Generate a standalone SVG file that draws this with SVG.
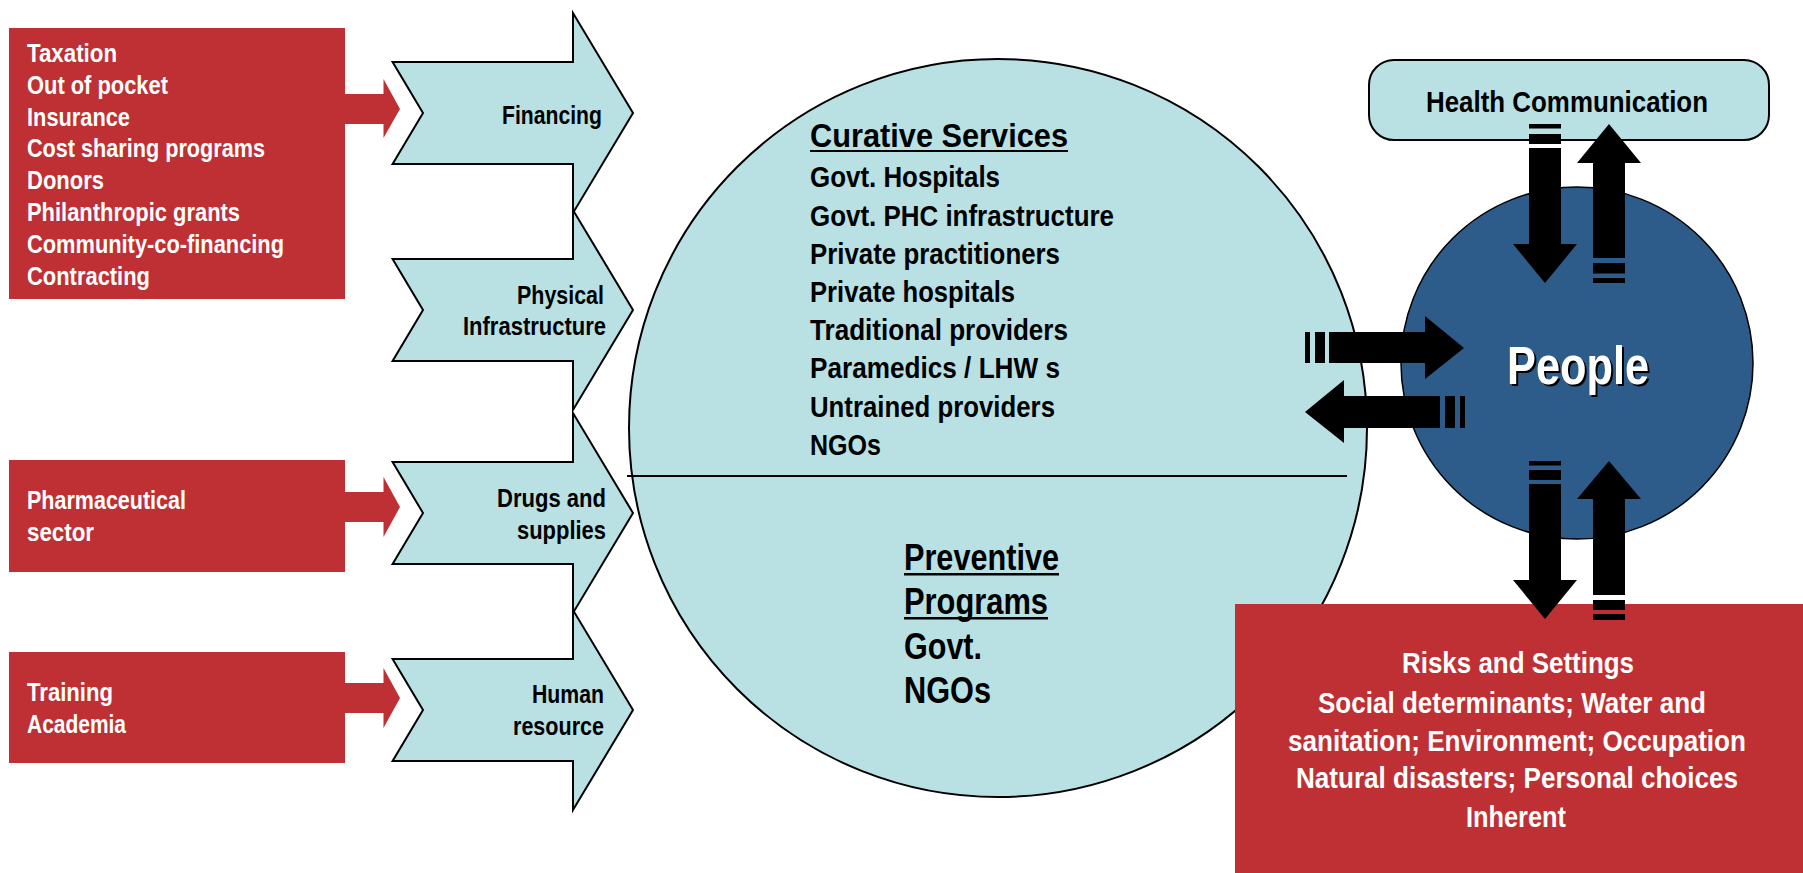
<svg xmlns="http://www.w3.org/2000/svg" width="1803" height="873" viewBox="0 0 1803 873">
<defs>
<style>
.red{fill:#BE3033}
.blue{fill:#B9E0E3;stroke:#000;stroke-width:2}
.blk{fill:#000}
text{font-family:"Liberation Sans Narrow","Arial Narrow","Liberation Sans",Arial,sans-serif;font-weight:bold}
.w{fill:#fff}
.k{fill:#000}
.s26{font-size:26px}
.s25{font-size:25px}
.s29{font-size:29px}
.s33{font-size:33px}
.s37{font-size:37px}
.s30{font-size:30px}
</style>
</defs>
<rect width="1803" height="873" fill="#fff"/>

<g id="big-circle">
<circle cx="998" cy="428" r="369" class="blue"/>
<line x1="627" y1="476" x2="1347" y2="476" stroke="#000" stroke-width="2"/>
<text class="k s33" x="810" y="147" textLength="258" lengthAdjust="spacingAndGlyphs">Curative Services</text>
<rect x="810" y="150" width="258" height="2" fill="#000"/>
<text class="k s29" x="810" y="187" textLength="190" lengthAdjust="spacingAndGlyphs">Govt. Hospitals</text>
<text class="k s29" x="810" y="226" textLength="304" lengthAdjust="spacingAndGlyphs">Govt. PHC infrastructure</text>
<text class="k s29" x="810" y="264" textLength="250" lengthAdjust="spacingAndGlyphs">Private practitioners</text>
<text class="k s29" x="810" y="302" textLength="205" lengthAdjust="spacingAndGlyphs">Private hospitals</text>
<text class="k s29" x="810" y="340" textLength="258" lengthAdjust="spacingAndGlyphs">Traditional providers</text>
<text class="k s29" x="810" y="378" textLength="250" lengthAdjust="spacingAndGlyphs">Paramedics / LHW s</text>
<text class="k s29" x="810" y="417" textLength="245" lengthAdjust="spacingAndGlyphs">Untrained providers</text>
<text class="k s29" x="810" y="455" textLength="71" lengthAdjust="spacingAndGlyphs">NGOs</text>
<text class="k s37" x="904" y="570" textLength="155" lengthAdjust="spacingAndGlyphs">Preventive</text>
<rect x="904" y="573" width="155" height="2.5" fill="#000"/>
<text class="k s37" x="904" y="614" textLength="144" lengthAdjust="spacingAndGlyphs">Programs</text>
<rect x="904" y="617" width="144" height="2.5" fill="#000"/>
<text class="k s37" x="904" y="659" textLength="78" lengthAdjust="spacingAndGlyphs">Govt.</text>
<text class="k s37" x="904" y="703" textLength="87" lengthAdjust="spacingAndGlyphs">NGOs</text>
</g>

<g id="financing-sources">
<rect x="9" y="28" width="336" height="271" class="red"/>
<text class="w s26" x="27" y="62" textLength="90" lengthAdjust="spacingAndGlyphs">Taxation</text>
<text class="w s26" x="27" y="94" textLength="141" lengthAdjust="spacingAndGlyphs">Out of pocket</text>
<text class="w s26" x="27" y="126" textLength="103" lengthAdjust="spacingAndGlyphs">Insurance</text>
<text class="w s26" x="27" y="157" textLength="238" lengthAdjust="spacingAndGlyphs">Cost sharing programs</text>
<text class="w s26" x="27" y="189" textLength="77" lengthAdjust="spacingAndGlyphs">Donors</text>
<text class="w s26" x="27" y="221" textLength="213" lengthAdjust="spacingAndGlyphs">Philanthropic grants</text>
<text class="w s26" x="27" y="253" textLength="257" lengthAdjust="spacingAndGlyphs">Community-co-financing</text>
<text class="w s26" x="27" y="285" textLength="123" lengthAdjust="spacingAndGlyphs">Contracting</text>
</g>

<g id="pharma-sources">
<rect x="9" y="460" width="336" height="112" class="red"/>
<text class="w s26" x="27" y="509" textLength="159" lengthAdjust="spacingAndGlyphs">Pharmaceutical</text>
<text class="w s26" x="27" y="541" textLength="67" lengthAdjust="spacingAndGlyphs">sector</text>
</g>

<g id="training-sources">
<rect x="9" y="652" width="336" height="111" class="red"/>
<text class="w s26" x="27" y="701" textLength="86" lengthAdjust="spacingAndGlyphs">Training</text>
<text class="w s26" x="27" y="733" textLength="99" lengthAdjust="spacingAndGlyphs">Academia</text>
</g>

<g id="financing">
<polygon class="blue" points="392.6,62 573,62 573,13 633,113 573,213 573,164 392.6,164 423,113"/>
<text class="k s25" x="502" y="124" textLength="100" lengthAdjust="spacingAndGlyphs">Financing</text>
</g>
<g id="physical-infrastructure">
<polygon class="blue" points="392.6,259 573,259 573,210 633,310 573,410 573,361 392.6,361 423,310"/>
<text class="k s25" x="517" y="304" textLength="87" lengthAdjust="spacingAndGlyphs">Physical</text>
<text class="k s25" x="463" y="335" textLength="143" lengthAdjust="spacingAndGlyphs">Infrastructure</text>
</g>
<g id="drugs-supplies">
<polygon class="blue" points="392.6,462 573,462 573,413 633,513 573,613 573,564 392.6,564 423,513"/>
<text class="k s25" x="497" y="507" textLength="109" lengthAdjust="spacingAndGlyphs">Drugs and</text>
<text class="k s25" x="517" y="539" textLength="89" lengthAdjust="spacingAndGlyphs">supplies</text>
</g>
<g id="human-resource">
<polygon class="blue" points="392.6,659 573,659 573,610 633,710 573,810 573,761 392.6,761 423,710"/>
<text class="k s25" x="532" y="703" textLength="72" lengthAdjust="spacingAndGlyphs">Human</text>
<text class="k s25" x="513" y="735" textLength="91" lengthAdjust="spacingAndGlyphs">resource</text>
</g>

<g id="risks-settings">
<rect x="1235" y="604" width="568" height="269" class="red"/>
<text class="w s29" x="1402" y="673" textLength="232" lengthAdjust="spacingAndGlyphs">Risks and Settings</text>
<text class="w s29" x="1318" y="713" textLength="388" lengthAdjust="spacingAndGlyphs">Social determinants; Water and</text>
<text class="w s29" x="1288" y="751" textLength="458" lengthAdjust="spacingAndGlyphs">sanitation; Environment; Occupation</text>
<text class="w s29" x="1296" y="788" textLength="442" lengthAdjust="spacingAndGlyphs">Natural disasters; Personal choices</text>
<text class="w s29" x="1466" y="827" textLength="100" lengthAdjust="spacingAndGlyphs">Inherent</text>
</g>

<g id="health-communication">
<rect x="1369" y="60" width="400" height="80" rx="25" ry="25" class="blue"/>
<text class="k s30" x="1426" y="112" textLength="282" lengthAdjust="spacingAndGlyphs">Health Communication</text>
</g>

<g id="people">
<circle cx="1577" cy="363" r="176" fill="#2D5B8A" stroke="#000" stroke-width="1.5"/>
<text x="1509" y="386" font-size="54" fill="#000" textLength="142" lengthAdjust="spacingAndGlyphs">People</text>
<text x="1507" y="384" font-size="54" class="w" textLength="142" lengthAdjust="spacingAndGlyphs">People</text>
</g>

<g id="connectors">
<polygon class="red" points="344,94 383.5,94 383.5,79 400,109 383.5,138 383.5,124 344,124"/>
<polygon class="red" points="344,492 383.5,492 383.5,477 400,507 383.5,537 383.5,522 344,522"/>
<polygon class="red" points="344,683 383.5,683 383.5,668 400,698 383.5,728 383.5,713 344,713"/>

<rect class="blk" x="1305" y="332" width="5" height="31"/>
<rect class="blk" x="1315" y="332" width="10" height="31"/>
<polygon class="blk" points="1329,332 1425,332 1425,316 1464,348 1425,379 1425,363 1329,363"/>

<polygon class="blk" points="1305,412 1344,380 1344,396 1440,396 1440,428 1344,428 1344,443"/>
<rect class="blk" x="1445" y="396" width="10" height="32"/>
<rect class="blk" x="1460" y="396" width="5" height="32"/>

<rect class="blk" x="1529" y="124" width="32" height="4.5"/>
<rect class="blk" x="1529" y="134" width="32" height="10"/>
<polygon class="blk" points="1529,148 1561,148 1561,244 1577,244 1545,283 1513,244 1529,244"/>

<polygon class="blk" points="1609,124 1641,163 1625,163 1625,258 1593,258 1593,163 1577,163"/>
<rect class="blk" x="1593" y="263" width="32" height="10.5"/>
<rect class="blk" x="1593" y="278" width="32" height="5"/>

<rect class="blk" x="1529" y="461" width="32" height="4.5"/>
<rect class="blk" x="1529" y="470" width="32" height="10"/>
<polygon class="blk" points="1529,484 1561,484 1561,580 1577,580 1545,619 1513,580 1529,580"/>

<polygon class="blk" points="1609,461 1641,499 1625,499 1625,595 1593,595 1593,499 1577,499"/>
<rect class="blk" x="1593" y="600" width="32" height="10"/>
<rect class="blk" x="1593" y="614" width="32" height="6"/>
</g>
</svg>
